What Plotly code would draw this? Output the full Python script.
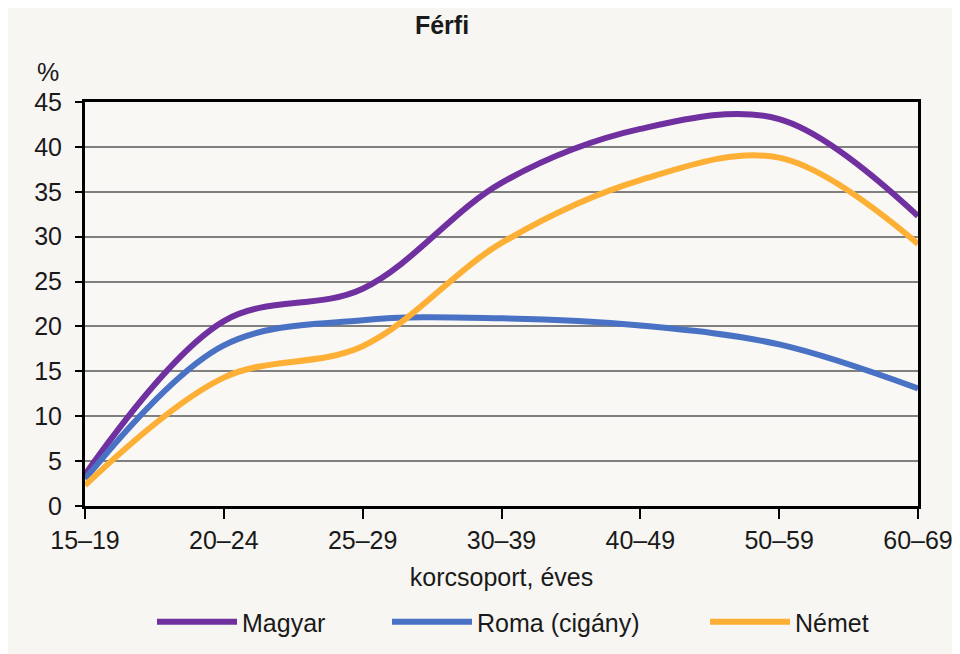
import plotly.graph_objects as go

categories = ["15–19", "20–24", "25–29", "30–39", "40–49", "50–59", "60–69"]
magyar = [3.5, 20.6, 24.2, 36.0, 42.0, 43.1, 32.3]
roma = [3.0, 17.9, 20.7, 20.9, 20.1, 18.0, 13.1]
nemet = [2.3, 14.3, 17.8, 29.3, 36.3, 38.8, 29.2]
y_ticks = [0, 5, 10, 15, 20, 25, 30, 35, 40, 45]

series = [
    ("Magyar", magyar, "#7030A0", "legend", 157),
    ("Roma (cigány)", roma, "#4A72C4", "legend2", 392),
    ("Német", nemet, "#FDB035", "legend3", 710),
]

FONT = "Liberation Sans, Arial, sans-serif"
TXT = "#1a1a1a"
FS = 25

OFF = 8  # page body margin
W, H = 960 - OFF, 654 - OFF
L, R, T, B = 85 - OFF, 42, 102 - OFF, 148
pw = W - L - R
ph = H - T - B
PT = T + OFF  # screen y of plot top
PL = L + OFF  # screen x of plot left

fig = go.Figure()
for name, vals, col, lg, _ in series:
    fig.add_trace(go.Scatter(
        x=categories, y=vals, name=name, mode="lines",
        line=dict(color=col, width=6, shape="spline", smoothing=1.0),
        cliponaxis=False, legend=lg,
    ))

legends = {}
for name, vals, col, lg, px in series:
    legends[lg] = dict(orientation="h", x=(px - 5 - PL) / pw, xanchor="left",
                       y=(PT + ph - 622) / ph, yanchor="middle",
                       bgcolor="rgba(0,0,0,0)",
                       font=dict(family=FONT, size=FS, color=TXT),
                       itemwidth=80)

fig.update_layout(
    width=W, height=H,
    margin=dict(l=L, r=R, t=T, b=B, autoexpand=False),
    paper_bgcolor="#F8F6F2",
    plot_bgcolor="#F9F8F5",
    font=dict(family=FONT, size=FS, color=TXT),
    title=dict(text="<b>Férfi</b>", x=(442 - OFF) / W, xanchor="center",
               y=1 - (25 - OFF) / H, yanchor="middle", automargin=False,
               font=dict(family=FONT, size=FS, color=TXT)),
    showlegend=True,
    xaxis=dict(
        type="category", range=[0, len(categories) - 1], automargin=False,
        showline=True, mirror=True, linecolor="black", linewidth=3,
        ticks="outside", ticklen=10, tickwidth=2, tickcolor="black",
        showgrid=False, zeroline=False,
        title=dict(text="korcsoport, éves", standoff=16,
                   font=dict(size=FS, color=TXT)),
        tickfont=dict(size=FS, color=TXT),
    ),
    yaxis=dict(
        range=[0, 45], tickmode="array", tickvals=y_ticks, automargin=False,
        showline=True, mirror=True, linecolor="black", linewidth=3,
        ticks="outside", ticklen=7, tickwidth=2, tickcolor="black",
        showgrid=True, gridcolor="#808080", gridwidth=1.5,
        zeroline=False, tickfont=dict(size=FS, color=TXT),
        ticklabelstandoff=8,
    ),
    annotations=[dict(text="%", xref="paper", yref="paper",
                      x=(48 - PL) / pw, y=(PT + ph - 72) / ph,
                      xanchor="center", yanchor="middle", showarrow=False,
                      font=dict(size=FS, color=TXT))],
    **legends,
)

fig.write_html("out.html")
